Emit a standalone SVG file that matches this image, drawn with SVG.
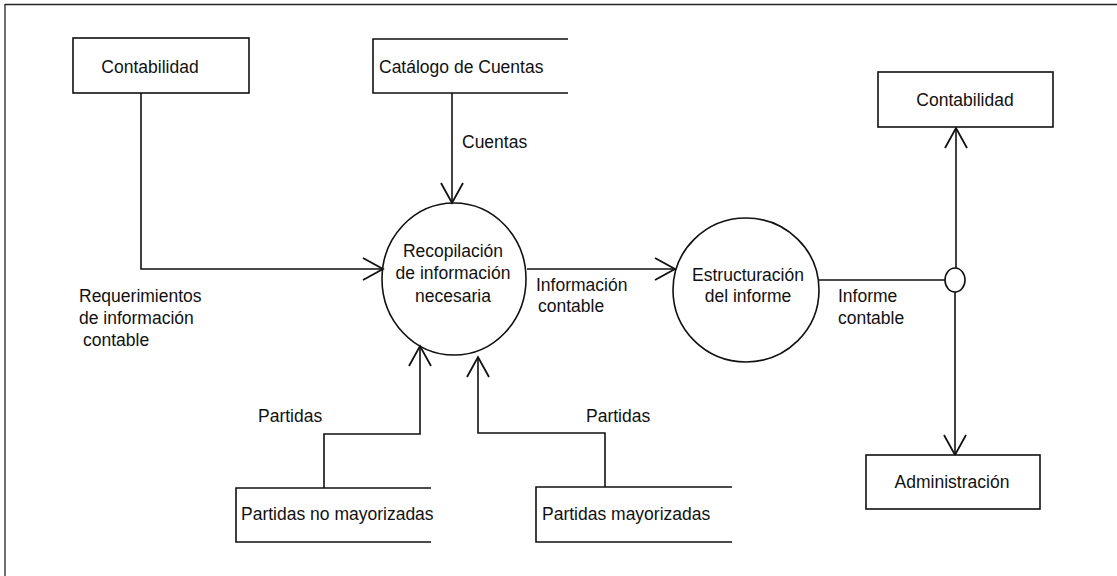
<svg xmlns="http://www.w3.org/2000/svg" width="1117" height="576" viewBox="0 0 1117 576">
<style>
text{font-family:"Liberation Sans",Arial,sans-serif;font-size:17.5px;fill:#111}
.box{fill:#fff;stroke:#111;stroke-width:1.6}
.ln{fill:none;stroke:#111;stroke-width:1.6}
.c{fill:none;stroke:#111;stroke-width:1.6}
.m{text-anchor:middle}
</style>
<defs>
<marker id="arr" viewBox="-22 -13 24 26" markerWidth="24" markerHeight="26" refX="0" refY="0" markerUnits="userSpaceOnUse" orient="auto">
<path d="M-20,-11 L0,0 L-20,11" fill="none" stroke="#111" stroke-width="1.8"/>
</marker>
<linearGradient id="topg" x1="0" x2="1" y1="0" y2="0">
<stop offset="0" stop-color="#a8d4e0"/>
<stop offset="0.5" stop-color="#3050a8"/>
<stop offset="1" stop-color="#5a2a88"/>
</linearGradient>
</defs>
<rect width="1117" height="576" fill="#fff"/>
<g id="frame">
<line x1="5" y1="4.5" x2="1117" y2="4.5" stroke="#222" stroke-width="1.3"/>
<line x1="200" y1="5" x2="1117" y2="5" stroke="url(#topg)" stroke-width="2"/>
<line x1="5" y1="4" x2="5" y2="576" stroke="#222" stroke-width="1.3"/>
</g>
<g id="connectors">
<path class="ln" d="M141,93 V269 H383" marker-end="url(#arr)"/>
<path class="ln" d="M452,93 V203" marker-end="url(#arr)"/>
<path class="ln" d="M527,269 H675" marker-end="url(#arr)"/>
<path class="ln" d="M819,280 H945"/>
<path class="ln" d="M956,268 V128" marker-end="url(#arr)"/>
<path class="ln" d="M955,292 V455" marker-end="url(#arr)"/>
<path class="ln" d="M324,488 V434 H420 V346" marker-end="url(#arr)"/>
<path class="ln" d="M605,487 V433 H478 V357" marker-end="url(#arr)"/>
<text x="462" y="148">Cuentas</text>
<text x="79" y="302">Requerimientos</text>
<text x="79" y="324">de información</text>
<text x="83" y="346">contable</text>
<text x="536" y="291">Información</text>
<text x="538" y="312">contable</text>
<text x="838" y="302">Informe</text>
<text x="838" y="324">contable</text>
<text x="258" y="422">Partidas</text>
<text x="586" y="422">Partidas</text>
</g>
<g id="contabilidad-origen">
<rect class="box" x="73" y="38" width="176" height="55"/>
<text class="m" x="150" y="73">Contabilidad</text>
</g>
<g id="catalogo-cuentas">
<path class="ln" d="M568,39 H373 V93 H568"/>
<text x="379" y="73">Catálogo de Cuentas</text>
</g>
<g id="recopilacion">
<ellipse class="c" cx="454" cy="279" rx="72" ry="76"/>
<text class="m" x="453" y="257">Recopilación</text>
<text class="m" x="453" y="279">de información</text>
<text class="m" x="453" y="302">necesaria</text>
</g>
<g id="estructuracion">
<ellipse class="c" cx="746" cy="290" rx="73" ry="72"/>
<text class="m" x="748" y="281">Estructuración</text>
<text class="m" x="748" y="302">del informe</text>
</g>
<g id="conector-union">
<ellipse class="c" cx="955" cy="280" rx="10" ry="12" fill="#fff"/>
</g>
<g id="contabilidad-destino">
<rect class="box" x="878" y="72" width="175" height="55"/>
<text class="m" x="965" y="106">Contabilidad</text>
</g>
<g id="administracion">
<rect class="box" x="866" y="455" width="174" height="54"/>
<text class="m" x="952" y="488">Administración</text>
</g>
<g id="partidas-no-mayorizadas">
<path class="ln" d="M431,488 H236 V542 H431"/>
<text x="241" y="520">Partidas no mayorizadas</text>
</g>
<g id="partidas-mayorizadas">
<path class="ln" d="M732,487 H536 V542 H732"/>
<text x="542" y="520">Partidas mayorizadas</text>
</g>
</svg>
